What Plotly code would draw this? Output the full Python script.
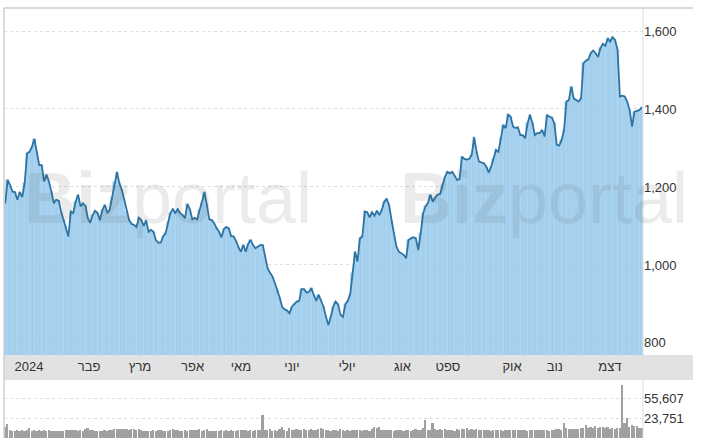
import plotly.graph_objects as go

# Daily closing values, left to right
price = [1158,1218,1205,1188,1187,1167,1187,1174,1209,1286,
         1290,1303,1323,1290,1256,1256,1214,1231,1214,1188,
         1158,1167,1165,1137,1115,1100,1073,1137,1133,1162,
         1180,1150,1158,1152,1120,1108,1128,1139,1133,1115,
         1141,1154,1133,1141,1175,1214,1238,1209,1192,1167,
         1137,1115,1105,1103,1097,1121,1115,1100,1114,1085,
         1090,1085,1064,1057,1057,1073,1081,1111,1133,1143,
         1133,1143,1133,1128,1120,1156,1143,1117,1121,1117,
         1141,1158,1186,1154,1117,1115,1107,1094,1085,1071,
         1092,1097,1094,1074,1073,1062,1045,1034,1051,1034,
         1054,1064,1051,1043,1047,1051,1051,1021,991,980,
         970,953,936,915,892,886,883,876,893,899,
         906,908,938,938,929,931,940,923,908,923,
         910,893,867,846,867,893,906,899,872,867,
         899,908,925,
         979,1034,1009,1068,1073,1137,1135,1122,1135,1126,
         1139,1128,1141,1162,1169,1154,1115,1077,1047,1034,
         1031,1026,1017,1064,1068,1071,1068,1038,1081,1132,
         1150,1159,1180,1162,1173,1180,1182,1205,1226,1239,
         1235,1239,1228,1218,1220,1278,1272,1270,1272,1282,
         1327,1290,1265,1262,1261,1252,1237,1252,1273,1295,
         1290,1325,1359,1351,1386,1380,1355,1351,1353,1333,
         1333,1325,1363,1385,1363,1333,1338,1338,1346,1329,
         1385,1380,1378,1363,1308,1306,1320,1346,1419,1423,
         1457,1427,1423,1419,1427,1517,1524,1527,1543,1550,
         1543,1533,1556,1567,1562,1581,1573,1584,1577,1552,
         1432,1434,1432,1419,1397,1355,1393,1396,1397,1404]

volume = [10000,14700,5000,4200,3800,4500,3600,4800,4100,5200,
          8800,4300,5000,3900,4600,3500,4800,3200,4400,3800,
          3000,3600,2800,3900,4200,5500,5800,5200,4900,5600,
          4300,5300,3700,6200,8800,5000,4400,3600,3900,3300,
          3800,4500,3700,5200,4800,6000,6600,7200,7000,6800,
          6000,4600,6200,7000,5500,6600,5800,4200,3300,3900,
          3600,4500,3000,4600,5200,3700,3100,4000,4800,6800,
          5200,4700,4300,4100,4600,3900,5000,4400,5600,4800,
          6000,3800,5200,6300,4000,3500,4200,3800,3000,4600,
          3700,4900,3600,5600,4300,4000,5200,4600,4800,5000,
          3800,4600,4200,5100,4700,4400,29000,5200,4800,6400,
          4200,5600,4000,6100,10400,5200,4300,8800,5000,4600,
          6600,5300,4800,7000,5400,4500,6200,4900,5600,7100,
          8200,6800,5000,4400,3900,5800,4600,4200,6500,5300,
          3800,4700,4100,4500,5200,4800,5000,4300,4600,5500,
          4000,6000,10400,8000,10400,5600,4800,5200,4600,5100,
          4200,5700,4400,5200,4000,4800,5600,4300,4900,6400,
          5000,4500,7600,21000,4800,5900,15800,6100,5300,6600,
          4900,6000,5200,4700,5800,4300,6300,5200,7400,6000,
          8000,5400,7000,5100,6200,4800,5300,5600,4600,5000,
          4300,5200,4800,4500,5400,4200,5700,5000,4600,5300,
          4400,4800,5500,4600,5100,3900,5600,4700,5200,4500,
          5300,4900,4500,5600,4200,5800,5000,6200,7000,5600,
          16700,7800,6400,7000,6000,7200,6600,8400,7800,13000,
          8200,10400,9000,11000,8800,10000,9400,7600,10200,7000,
          8600,7200,9000,8200,76800,17000,24700,9800,13000,11500,
          10800,9000,7600]

month_labels = ["2024", "פבר", "מרץ", "אפר", "מאי", "יוני", "יולי",
                "אוג", "ספט", "אוק", "נוב", "דצמ"]
month_tick_index = [9.8, 34.5, 55.5, 77.1, 97.0, 118.0, 140.7,
                    163.5, 182.2, 208.6, 226.2, 248.9]

price_ticks = [800, 1000, 1200, 1400, 1600]
volume_ticks = [23751, 55607]

idx = list(range(len(price)))
n = len(price)

PRICE_RANGE = [769, 1659]
VOL_RANGE = [-7630, 84760]

FONT = "Arial, Liberation Sans, DejaVu Sans, sans-serif"
TXT = "#333333"
GRID = "#d6dfe8"

fig = go.Figure()

# striped light-blue area (bars)
fig.add_trace(go.Bar(
    x=idx, y=price, xaxis="x", yaxis="y",
    marker=dict(color="#abd5f1", line=dict(color="#93c5e6", width=0.5)),
    hoverinfo="skip", showlegend=False,
))
# dark blue line
fig.add_trace(go.Scatter(
    x=idx, y=price, xaxis="x", yaxis="y", mode="lines",
    line=dict(color="#2d73a3", width=1.8), showlegend=False,
))
# volume bars
fig.add_trace(go.Bar(
    x=idx, y=[v - VOL_RANGE[0] for v in volume], base=VOL_RANGE[0],
    xaxis="x2", yaxis="y2",
    marker=dict(color="#a0a0a0", line=dict(width=0)),
    width=0.7, hoverinfo="skip", showlegend=False,
))

xr = [-0.5, n - 0.5]

fig.update_layout(
    width=703, height=442,
    margin=dict(l=4, r=60, t=8, b=4, autoexpand=False),
    paper_bgcolor="white", plot_bgcolor="white",
    bargap=0, barmode="overlay",
    font=dict(family=FONT, size=13, color=TXT),
    xaxis=dict(domain=[0, 1], anchor="y", range=xr,
               tickmode="array", tickvals=month_tick_index, ticktext=month_labels,
               showgrid=False, zeroline=False, showline=False, ticks="",
               ticklabelstandoff=2,
               tickfont=dict(size=13, color=TXT)),
    yaxis=dict(domain=[0.193, 1], anchor="x", side="right", range=PRICE_RANGE,
               tickmode="array", tickvals=price_ticks, tickformat=",d",
               showgrid=True, gridcolor=GRID, griddash="dot", gridwidth=1,
               zeroline=False, ticks="", showline=False,
               tickfont=dict(size=13, color=TXT)),
    xaxis2=dict(domain=[0, 1], anchor="y2", range=xr, matches="x",
                showticklabels=False, showgrid=False, zeroline=False, ticks=""),
    yaxis2=dict(domain=[0, 0.1349], anchor="x2", side="right", range=VOL_RANGE,
                tickmode="array", tickvals=volume_ticks, tickformat=",d",
                showgrid=True, gridcolor=GRID, griddash="dot", gridwidth=1,
                zeroline=False, ticks="", showline=False,
                tickfont=dict(size=13, color=TXT)),
)

shapes = [
    # date band
    dict(type="rect", xref="paper", yref="paper", x0=0, x1=1.0782,
         y0=0.1349, y1=0.193, fillcolor="#e2e2e2", line=dict(width=0), layer="below"),
    # top frame
    dict(type="line", xref="paper", yref="paper", x0=0, x1=1.0782, y0=1, y1=1,
         line=dict(color="#cdcdcd", width=1.5)),
    # left frame
    dict(type="line", xref="paper", yref="paper", x0=0, x1=0, y0=0, y1=1,
         line=dict(color="#d0d0d0", width=1.5)),
    # right axis line
    dict(type="line", xref="paper", yref="paper", x0=1, x1=1, y0=0, y1=1,
         line=dict(color="#dddddd", width=1)),
]
fig.update_layout(shapes=shapes)

for xp in [0.0282, 0.6166]:
    fig.add_annotation(
        xref="paper", yref="paper", x=xp, y=0.558, xanchor="left", yanchor="middle",
        text="<b>Biz</b>portal", showarrow=False,
        font=dict(family="Liberation Sans, Arial, sans-serif", size=72,
                  color="rgba(90,90,90,0.12)"),
    )

fig.write_html("out.html", config={"displayModeBar": False},
               post_script="document.body.style.margin='0';document.body.style.overflow='hidden';")
